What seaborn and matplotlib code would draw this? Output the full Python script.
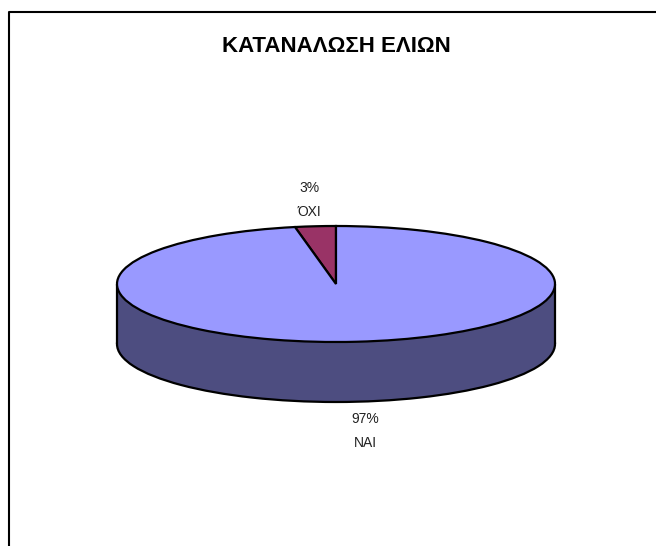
import matplotlib
matplotlib.use("Agg")
import matplotlib.pyplot as plt
import seaborn as sns

categories = ["ΌΧΙ", "ΝΑΙ"]
percents = [3, 97]
title = "ΚΑΤΑΝΑΛΩΣΗ ΕΛΙΩΝ"

W, H = 656, 546
sns.set_style("white")
plt.rcParams["font.family"] = ["Liberation Sans", "DejaVu Sans"]

top_colors = sns.color_palette(["#993366", "#9999FF"])
side_color = "#4D4D80"

# pie centre and radii in pixels, the axes squash the circle into an ellipse
cx, cy, rx, ry = 336, 284, 219, 58
depth = 60 / ry

fig = plt.figure(figsize=(W / 100, H / 100), dpi=100)
ax = fig.add_axes([(cx - rx) / W, 1 - (cy + ry) / H, 2 * rx / W, 2 * ry / H])

# side of the cylinder first, then the top on it
base, _ = ax.pie([1], colors=[side_color], center=(0, -depth), radius=1,
                 wedgeprops={"edgecolor": "black", "linewidth": 1.6, "clip_on": False})
base[0].set_zorder(1)
ax.fill_between([-1, 1], -depth, 0, color=side_color, linewidth=0, zorder=2, clip_on=False)
ax.vlines([-1, 1], -depth, 0, color="black", linewidth=1.6, zorder=3, clip_on=False)

wedges, _ = ax.pie(percents, colors=top_colors, startangle=90, radius=1,
                   wedgeprops={"edgecolor": "black", "linewidth": 1.6, "clip_on": False})
for w in wedges:
    w.set_zorder(4)

ax.set_aspect("auto")
ax.set_xlim(-1, 1)
ax.set_ylim(-1, 1)
ax.axis("off")

# frame: only left and top show, the rest is cut by the image edge
fig.add_artist(plt.Line2D([8.5 / W, 8.5 / W, 1], [0, 1 - 11.5 / H, 1 - 11.5 / H],
                          color="black", linewidth=1.5))

fig.text(cx / W, 1 - 46 / H, title, ha="center", va="center", fontsize=16,
         fontweight="bold", color="black")

# data labels, percent above category
label_pos = [(309, 200), (365, 431)]
for cat, pct, (x, y) in zip(categories, percents, label_pos):
    fig.text(x / W, 1 - y / H, f"{pct}%\n{cat}", ha="center", va="center",
             fontsize=10, linespacing=1.85, color="#222222")

fig.savefig("out.png", dpi=100, facecolor="white")
